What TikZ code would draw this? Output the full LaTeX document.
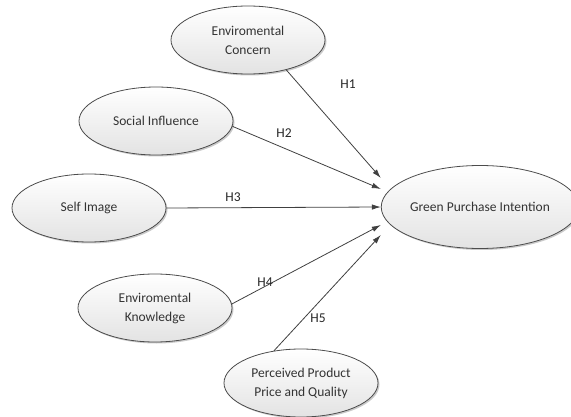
\documentclass[tikz,border=0pt]{standalone}
\usepackage{fontspec}
\setmainfont{Carlito}
\usetikzlibrary{shapes.geometric,shadows,arrows.meta}

\tikzset{
  construct/.style={ellipse,draw=black!70,line width=0.8pt,
    top color=white,bottom color=black!11,
    drop shadow={shadow xshift=1.5pt,shadow yshift=-1.5pt,opacity=0.35,fill=black!60},
    minimum width=154pt,minimum height=68pt,inner sep=0pt,
    align=center,text=black!80,font=\fontsize{13.5}{19}\selectfont},
  hyp/.style={draw=black!75,line width=0.8pt,-{Latex[length=9pt,width=5.5pt]}},
  hlabel/.style={text=black!85,font=\fontsize{13.5}{15}\selectfont}
}

\begin{document}
\begin{tikzpicture}[x=1pt,y=-1pt]
\useasboundingbox (0,0) rectangle (571,417);

% constructs:
\node[construct] (ec) at (248,40) {Enviromental\\Concern};
\node[construct] (si) at (156,121) {Social Influence};
\node[construct] (sim) at (89,208) {Self Image};
\node[construct] (ek) at (155,308) {Enviromental\\Knowledge};
\node[construct] (pp) at (301,383) {Perceived Product\\Price and Quality};
\node[construct,minimum width=176pt,minimum height=83pt] (gpi) at (480,207) {Green Purchase Intention};

% hypotheses:
\draw[hyp] (ec.-38) -- ([yshift=29pt]gpi.west);
\draw[hyp] (si.-4) -- ([yshift=18pt]gpi.west);
\draw[hyp] (sim.east) -- (gpi.west);
\draw[hyp] (ek.3) -- ([yshift=-18pt]gpi.west);
\draw[hyp] (pp.130) -- ([yshift=-28pt]gpi.west);

\path (348,84) node[hlabel] (h1) {H1};
\path (284,133) node[hlabel] (h2) {H2};
\path (233,197) node[hlabel] (h3) {H3};
\path (265,282) node[hlabel] (h4) {H4};
\path (318,318) node[hlabel] (h5) {H5};

\end{tikzpicture}
\end{document}
